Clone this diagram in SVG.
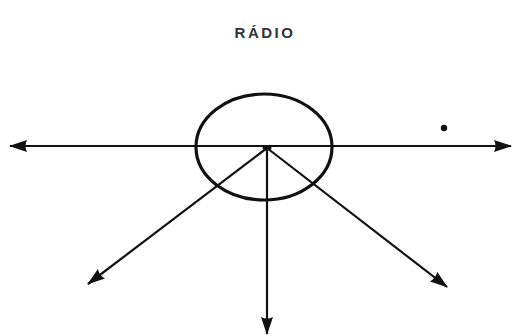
<svg xmlns="http://www.w3.org/2000/svg" width="515" height="336" viewBox="0 0 515 336">
<style>
.ln{stroke:#111;stroke-width:2.2;fill:none}
.ttl{font-family:"Liberation Sans",Arial,sans-serif;font-size:15px;font-weight:bold;fill:#333;letter-spacing:2.5px}
</style>
<defs>
<marker id="ah" viewBox="0 0 18 14" refX="17" refY="7" markerWidth="18" markerHeight="14" markerUnits="userSpaceOnUse" orient="auto">
<path d="M0,1 Q3,7 0,13 L18,7 Z" fill="#111"/>
</marker>
</defs>
<rect width="515" height="336" fill="#fff"/>
<text class="ttl" x="265" y="38" text-anchor="middle">RÁDIO</text>
<g id="radio">
<ellipse cx="264" cy="147" rx="68" ry="53" fill="none" stroke="#111" stroke-width="3.2"/>
<ellipse cx="267" cy="148" rx="4.5" ry="2.5" fill="#111"/>
</g>
<g id="dot"><circle cx="444" cy="128" r="3.2" fill="#111"/></g>
<g id="connectors">
<line class="ln" x1="267" y1="146" x2="10" y2="146" marker-end="url(#ah)"/>
<line class="ln" x1="267" y1="146" x2="511" y2="146" marker-end="url(#ah)"/>
<line class="ln" x1="267" y1="148" x2="88" y2="284" marker-end="url(#ah)"/>
<line class="ln" x1="267" y1="148" x2="447" y2="287" marker-end="url(#ah)"/>
<line class="ln" x1="267" y1="148" x2="267" y2="334" marker-end="url(#ah)"/>
</g>
</svg>
